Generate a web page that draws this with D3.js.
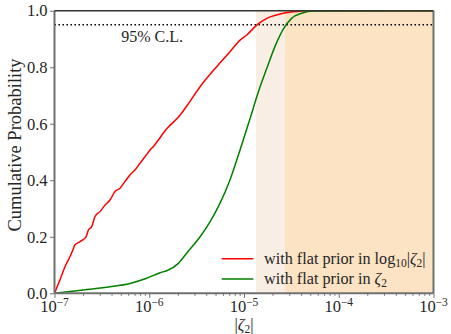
<!DOCTYPE html>
<html>
<head>
<meta charset="utf-8">
<script src="https://cdn.jsdelivr.net/npm/d3@7"></script>
<style>
  body { margin: 0; background: #fff; }
  svg text { font-family: "Liberation Serif", "Times New Roman", "DejaVu Serif", serif !important; fill: #262626; }
</style>
</head>
<body>
<svg id="chart" width="451" height="334" font-family="Liberation Serif"></svg>
<script>
// cumulative probability, flat prior in log10|zeta2| (red)
const logPriorX = [1.0e-7, 1.14e-7, 1.29e-7, 1.46e-7, 1.56e-7, 1.64e-7, 1.86e-7, 2.15e-7, 2.28e-7,
  2.47e-7, 2.67e-7, 3.02e-7, 3.41e-7, 3.85e-7, 4.35e-7, 4.91e-7, 5.53e-7, 6.25e-7, 7.06e-7,
  7.98e-7, 9.02e-7, 1.02e-6, 1.10e-6, 1.53e-6, 2.11e-6, 2.48e-6, 3.44e-6, 5.15e-6, 7.11e-6,
  9.08e-6, 1.07e-5, 1.36e-5, 1.74e-5, 2.40e-5, 3.31e-5, 4.59e-5, 1.0e-3];
const logPriorY = [0, 0.047, 0.094, 0.130, 0.153, 0.171, 0.183, 0.200, 0.224,
  0.236, 0.271, 0.289, 0.312, 0.330, 0.360, 0.372, 0.395, 0.419, 0.436,
  0.460, 0.483, 0.507, 0.519, 0.582, 0.630, 0.662, 0.731, 0.802, 0.855,
  0.896, 0.914, 0.949, 0.973, 0.988, 0.996, 1.0, 1.0];

// cumulative probability, flat prior in zeta2 (green)
const flatPriorX = [1.0e-7, 2.01e-7, 3.85e-7, 6.27e-7, 9.40e-7, 1.30e-6, 1.53e-6, 2.03e-6, 2.48e-6,
  3.44e-6, 4.38e-6, 5.57e-6, 7.11e-6, 9.08e-6, 1.16e-5, 1.42e-5, 1.74e-5, 2.12e-5, 2.60e-5,
  3.18e-5, 4.06e-5, 5.38e-5, 1.0e-3];
const flatPriorY = [0, 0.012, 0.023, 0.035, 0.053, 0.073, 0.080, 0.106, 0.142,
  0.200, 0.253, 0.318, 0.401, 0.507, 0.619, 0.713, 0.796, 0.873, 0.935,
  0.973, 0.991, 0.999, 1.0];

// shaded bands [from, to]
const bandLight = [1.34e-5, 2.71e-5];
const bandOrange = [2.71e-5, 1.0e-3];

const xTicks = [1e-7, 1e-6, 1e-5, 1e-4, 1e-3];
const xTickExp = ["\u22127", "\u22126", "\u22125", "\u22124", "\u22123"];
const yTicks = [0, 0.2, 0.4, 0.6, 0.8, 1.0];
const clLevel = 0.95;

const legendLabels = ["with flat prior in log", "with flat prior in "];

const svg = d3.select("#chart");
const margin = { top: 10.7, right: 17.5, bottom: 40.7, left: 54.5 };
const width = 451 - margin.left - margin.right;
const height = 334 - margin.top - margin.bottom;
const serif = "Liberation Serif";

const g = svg.append("g").attr("transform", `translate(${margin.left},${margin.top})`);

const x = d3.scaleLog().domain([1e-7, 1e-3]).range([0, width]);
const y = d3.scaleLinear().domain([0, 1]).range([height, 0]);

svg.append("defs").append("clipPath").attr("id", "clip")
  .append("rect").attr("width", width).attr("height", height);

// shaded regions
g.append("rect")
  .attr("x", x(bandLight[0])).attr("y", 0)
  .attr("width", x(bandLight[1]) - x(bandLight[0])).attr("height", height)
  .attr("fill", "#f9eee4");
g.append("rect")
  .attr("x", x(bandOrange[0])).attr("y", 0)
  .attr("width", x(bandOrange[1]) - x(bandOrange[0])).attr("height", height)
  .attr("fill", "#fbe3c4");

// 95% line
g.append("line")
  .attr("x1", 0).attr("x2", width)
  .attr("y1", y(clLevel)).attr("y2", y(clLevel))
  .attr("stroke", "#000").attr("stroke-width", 1.5)
  .attr("stroke-dasharray", "1.5,2.5");
g.append("text")
  .attr("x", x(1.07e-6)).attr("y", 41.7 - margin.top)
  .attr("text-anchor", "middle").attr("font-size", 16)
  .attr("font-family", serif)
  .text("95% C.L.");

const line = d3.line()
  .x((d) => x(d[0]))
  .y((d) => y(d[1]))
  .curve(d3.curveMonotoneX);

const curves = [
  { xs: logPriorX, ys: logPriorY, color: "#ff0000" },
  { xs: flatPriorX, ys: flatPriorY, color: "#008000" }
];

g.append("g").attr("clip-path", "url(#clip)")
  .selectAll("path")
  .data(curves)
  .enter()
  .append("path")
  .attr("d", (c) => line(c.xs.map((v, i) => [v, c.ys[i]])))
  .attr("fill", "none")
  .attr("stroke", (c) => c.color)
  .attr("stroke-width", 1.5);

// axes
const minorTicks = [];
for (let e = -7; e < -3; e++) {
  for (let m = 2; m <= 9; m++) minorTicks.push(m * Math.pow(10, e));
}

const axisColor = "#707070";

const xMinor = g.append("g")
  .attr("transform", `translate(0,${height})`)
  .call(d3.axisBottom(x).tickValues(minorTicks).tickSize(2.5).tickFormat(""));
const xMajor = g.append("g")
  .attr("transform", `translate(0,${height})`)
  .call(d3.axisBottom(x).tickValues(xTicks).tickSize(4.5).tickFormat(""));
const yAxis = g.append("g")
  .call(d3.axisLeft(y).tickValues(yTicks).tickSize(4.5).tickFormat(d3.format(".1f")));

[xMinor, xMajor, yAxis].forEach((a) => {
  a.attr("font-family", serif);
  a.select(".domain").remove();
  a.selectAll("line").attr("stroke", axisColor).attr("stroke-width", 1);
});
yAxis.selectAll("text")
  .attr("font-size", 16.5)
  .attr("x", -7);

// x tick labels with superscript exponent
const xLab = g.append("g").selectAll("text")
  .data(xTicks)
  .enter()
  .append("text")
  .attr("x", (d) => x(d))
  .attr("y", height + 19)
  .attr("text-anchor", "middle")
  .attr("font-family", serif)
  .attr("font-size", 16.5);
xLab.append("tspan").text("10");
xLab.append("tspan")
  .attr("dy", -6).attr("font-size", 11.5)
  .text((d, i) => xTickExp[i]);

// spines
g.append("line").attr("x1", 0).attr("x2", 0).attr("y1", 0).attr("y2", height)
  .attr("stroke", axisColor).attr("stroke-width", 2);
g.append("line").attr("x1", 0).attr("x2", width).attr("y1", height).attr("y2", height)
  .attr("stroke", axisColor).attr("stroke-width", 2);
g.append("line").attr("x1", width).attr("x2", width).attr("y1", 0).attr("y2", height)
  .attr("stroke", axisColor).attr("stroke-width", 2);
g.append("line").attr("x1", 0).attr("x2", width).attr("y1", 0).attr("y2", 0)
  .attr("stroke", "#333").attr("stroke-width", 1.5);

// axis labels
const xl = svg.append("text")
  .attr("x", margin.left + width / 2).attr("y", 330)
  .attr("text-anchor", "middle").attr("font-size", 16.5)
  .attr("font-family", serif);
xl.append("tspan").text("|");
xl.append("tspan").attr("font-style", "italic").text("\u03B6");
xl.append("tspan").attr("font-size", 11.5).attr("dy", 3).text("2");
xl.append("tspan").attr("dy", -3).text("|");

svg.append("text")
  .attr("transform", "translate(21,145) rotate(-90)")
  .attr("text-anchor", "middle").attr("font-size", 18.5)
  .attr("font-family", serif)
  .text("Cumulative Probability");

// legend
const legend = g.append("g");
const legY = [258.7 - margin.top, 279 - margin.top];
legend.selectAll("line")
  .data(curves)
  .enter()
  .append("line")
  .attr("x1", 221.7 - margin.left).attr("x2", 253.3 - margin.left)
  .attr("y1", (c, i) => legY[i]).attr("y2", (c, i) => legY[i])
  .attr("stroke", (c) => c.color).attr("stroke-width", 1.5);

const lt = legend.selectAll("text")
  .data(legendLabels)
  .enter()
  .append("text")
  .attr("x", 264 - margin.left)
  .attr("y", (d, i) => legY[i] + 5)
  .attr("font-family", serif)
  .attr("font-size", 16.2);
lt.append("tspan").text((d) => d);
lt.filter((d, i) => i === 0).append("tspan").attr("font-size", 11.5).attr("dy", 3).text("10");
lt.filter((d, i) => i === 0).append("tspan").attr("dy", -3).text("|");
lt.append("tspan").attr("font-style", "italic").text("\u03B6");
lt.append("tspan").attr("font-size", 11.5).attr("dy", 3).text("2");
lt.filter((d, i) => i === 0).append("tspan").attr("dy", -3).text("|");
</script>
</body>
</html>
